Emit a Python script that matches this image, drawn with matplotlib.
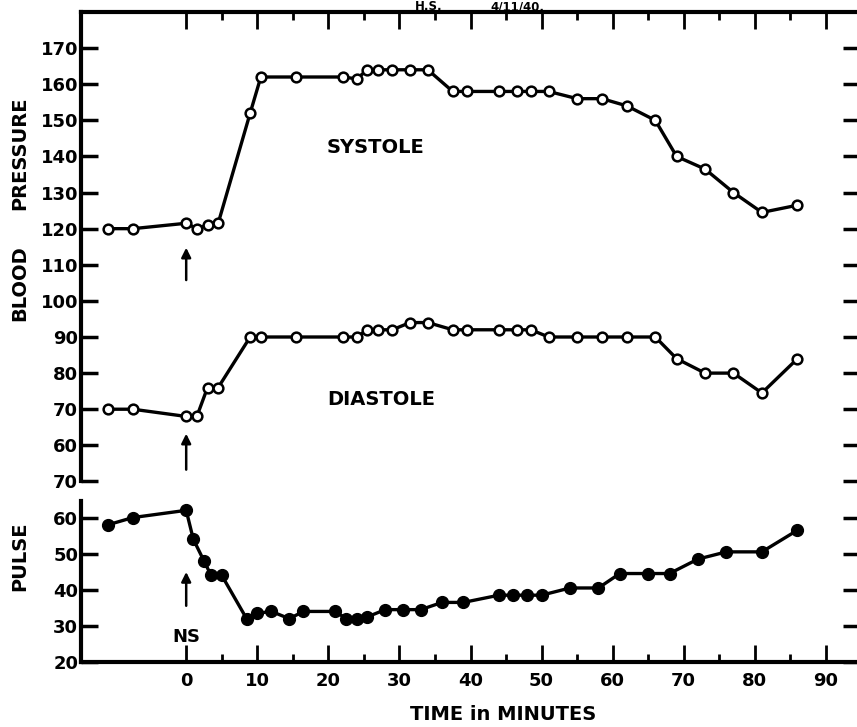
import matplotlib
matplotlib.use("Agg")
import matplotlib.pyplot as plt

# blood pressure readings (minutes from NS injection)
bp_time = [-11, -7.5, 0, 1.5, 3, 4.5, 9, 10.5, 15.5, 22, 24, 25.5, 27, 29, 31.5, 34,
           37.5, 39.5, 44, 46.5, 48.5, 51, 55, 58.5, 62, 66, 69, 73, 77, 81, 86]
systole = [120, 120, 121.5, 120, 121, 121.5, 152, 162, 162, 162, 161.5, 164, 164, 164, 164, 164,
           158, 158, 158, 158, 158, 158, 156, 156, 154, 150, 140, 136.5, 130, 124.5, 126.5]
diastole = [70, 70, 68, 68, 76, 76, 90, 90, 90, 90, 90, 92, 92, 92, 94, 94,
            92, 92, 92, 92, 92, 90, 90, 90, 90, 90, 84, 80, 80, 74.5, 84]

# pulse readings
pulse_time = [-11, -7.5, 0, 1, 2.5, 3.5, 5, 8.5, 10, 12, 14.5, 16.5, 21, 22.5, 24, 25.5, 28,
              30.5, 33, 36, 39, 44, 46, 48, 50, 54, 58, 61, 65, 68, 72, 76, 81, 86]
pulse = [58, 60, 62, 54, 48, 44, 44, 32, 33.5, 34, 32, 34, 34, 32, 32, 32.5, 34.5,
         34.5, 34.5, 36.5, 36.5, 38.5, 38.5, 38.5, 38.5, 40.5, 40.5, 44.5, 44.5, 44.5, 48.5, 50.5, 50.5, 56.5]

bp_ticks = list(range(60, 171, 10))
pulse_ticks = list(range(20, 71, 10))
x_major = list(range(0, 91, 10))
x_minor = list(range(5, 90, 10))

font = {"family": "DejaVu Sans", "weight": "bold"}

fig = plt.figure(figsize=(8.57, 7.27), dpi=100)
rect = [81 / 857, 65 / 727, 779 / 857, 650 / 727]
ax = fig.add_axes(rect)
ax_p = fig.add_axes(rect, sharex=ax)
ax_p.patch.set_visible(False)

ax.set_xlim(-14.8, 94.8)
ax.set_ylim(0, 180)
ax_p.set_ylim(20, 200)

line_kw = dict(color="black", lw=2.4, solid_joinstyle="round")
ax.plot(bp_time, systole, marker="o", ms=7, mfc="white", mec="black", mew=1.8, **line_kw)
ax.plot(bp_time, diastole, marker="o", ms=7, mfc="white", mec="black", mew=1.8, **line_kw)
ax_p.plot(pulse_time, pulse, marker="o", ms=8.5, mfc="black", mec="black", **line_kw)

# spines
for s in ax.spines.values():
    s.set_linewidth(3)
ax.spines["left"].set_bounds(50, 180)
for name in ["top", "right", "bottom"]:
    ax_p.spines[name].set_visible(False)
ax_p.spines["left"].set_linewidth(3)
ax_p.spines["left"].set_bounds(20, 64.5)

# x ticks
ax.set_xticks(x_major)
ax.set_xticks(x_minor, minor=True)
ax.tick_params(axis="x", which="major", direction="in", top=True, length=12, width=2, pad=7)
ax.tick_params(axis="x", which="minor", direction="in", top=True, length=6, width=2)
ax_p.tick_params(axis="x", which="both", bottom=False, top=False, labelbottom=False)

# y ticks
ax.set_yticks(bp_ticks)
ax_p.set_yticks(pulse_ticks)
for a in (ax, ax_p):
    a.tick_params(axis="y", direction="in", left=True, right=True, length=12.5, width=2.5, pad=2)
for t in ax.get_xticklabels() + ax.get_yticklabels() + ax_p.get_yticklabels():
    t.set_fontfamily(font["family"])
    t.set_fontweight("bold")
    t.set_fontsize(13)

# annotations
arrow = dict(arrowstyle="-|>", color="black", lw=1.8, mutation_scale=14)
ax.annotate("", xy=(0, 115.5), xytext=(0, 105), arrowprops=arrow)
ax.annotate("", xy=(0, 64), xytext=(0, 52.5), arrowprops=arrow)
ax_p.annotate("", xy=(0, 45.7), xytext=(0, 34.8), arrowprops=arrow)
ax_p.text(0, 26.8, "NS", ha="center", va="center", fontsize=13, **font)
ax.text(19.8, 142.6, "SYSTOLE", ha="left", va="center", fontsize=14, **font)
ax.text(19.8, 72.6, "DIASTOLE", ha="left", va="center", fontsize=14, **font)

fig.text(20 / 857, 1 - 153 / 727, "PRESSURE", rotation=90, ha="center", va="center", fontsize=14, **font)
fig.text(20 / 857, 1 - 283 / 727, "BLOOD", rotation=90, ha="center", va="center", fontsize=14, **font)
fig.text(20 / 857, 1 - 556 / 727, "PULSE", rotation=90, ha="center", va="center", fontsize=14, **font)
fig.text(503 / 857, 1 - 714 / 727, "TIME in MINUTES", ha="center", va="center", fontsize=14, **font)
# header sits just above the top spine (cropped in the scan)
fig.text(415 / 857, 1 - 10 / 727, "H.S.", ha="left", va="baseline", fontsize=8.5, **font)
fig.text(490 / 857, 1 - 10 / 727, "4/11/40.", ha="left", va="baseline", fontsize=8.5, **font)

fig.savefig("out.png", dpi=100)
